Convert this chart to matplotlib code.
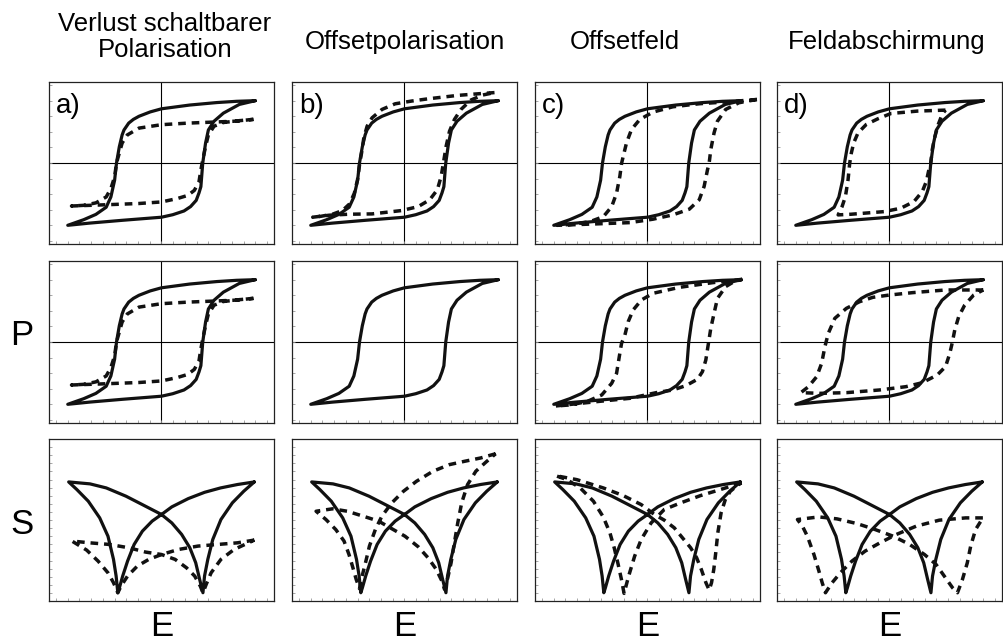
#!/usr/bin/env python3

import matplotlib
matplotlib.use("Agg")
import matplotlib.pyplot as plt
import numpy as np

plt.rcParams["font.family"] = ["Liberation Sans", "DejaVu Sans"]

column_titles = ["Verlust schaltbarer\nPolarisation", "Offsetpolarisation",
                 "Offsetfeld", "Feldabschirmung"]
panel_tags = ["a)", "b)", "c)", "d)"]

# Curves are (E, P) or (E, S) pairs, upper branch (E falling) then lower branch (E rising)

# Reference hysteresis loop P(E), drawn solid in every P panel
ref_loop = [
    (1.00, 1.00), (0.80, 0.99), (0.59, 0.97), (0.30, 0.93), (0.00, 0.87),
    (-0.12, 0.82), (-0.24, 0.75), (-0.30, 0.70), (-0.35, 0.64), (-0.40, 0.53),
    (-0.42, 0.45), (-0.45, 0.26), (-0.48, 0.00), (-0.50, -0.275), (-0.54, -0.545),
    (-0.59, -0.71), (-0.70, -0.825), (-0.83, -0.91), (-1.00, -1.00),
    (-0.77, -0.965), (-0.42, -0.92), (0.00, -0.87), (0.12, -0.83), (0.24, -0.77),
    (0.31, -0.70), (0.37, -0.60), (0.40, -0.48), (0.42, -0.38), (0.44, 0.00),
    (0.47, 0.32), (0.50, 0.53), (0.56, 0.67), (0.66, 0.80), (0.83, 0.94),
    (1.00, 1.00),
]

# Reference butterfly curve S(E), drawn solid in every S panel
ref_bfly = [
    (0.99, 0.735), (0.81, 0.719), (0.63, 0.698), (0.46, 0.671), (0.285, 0.632),
    (0.11, 0.581), (0.00, 0.534), (-0.10, 0.493), (-0.204, 0.431), (-0.292, 0.349),
    (-0.362, 0.246), (-0.414, 0.154), (-0.449, 0.082), (-0.466, 0.051),
    (-0.484, 0.154), (-0.512, 0.257), (-0.571, 0.400), (-0.659, 0.513),
    (-0.781, 0.616), (-0.903, 0.688), (-0.99, 0.735),
    (-0.763, 0.723), (-0.589, 0.698), (-0.379, 0.647), (-0.204, 0.595),
    (0.00, 0.534), (0.11, 0.482), (0.215, 0.411), (0.302, 0.329), (0.365, 0.236),
    (0.407, 0.133), (0.442, 0.051), (0.459, 0.154), (0.494, 0.257), (0.547, 0.380),
    (0.634, 0.503), (0.756, 0.606), (0.878, 0.678), (0.99, 0.735),
]

# a) loss of switchable polarisation
a_loop = [
    (0.98, 0.70), (0.77, 0.67), (0.28, 0.64), (0.00, 0.615), (-0.24, 0.56),
    (-0.365, 0.45), (-0.42, 0.32), (-0.45, 0.16), (-0.48, 0.00), (-0.50, -0.22),
    (-0.54, -0.41), (-0.59, -0.545), (-0.70, -0.64), (-0.835, -0.68), (-0.96, -0.69),
    (-0.59, -0.67), (-0.24, -0.65), (0.00, -0.625), (0.17, -0.57), (0.28, -0.52),
    (0.35, -0.44), (0.40, -0.30), (0.42, -0.11), (0.44, 0.05), (0.47, 0.265),
    (0.50, 0.45), (0.56, 0.59), (0.66, 0.65), (0.835, 0.68), (0.98, 0.70),
]
a_bfly = [
    (0.99, 0.376), (0.809, 0.359), (0.599, 0.349), (0.389, 0.339), (0.18, 0.318),
    (0.00, 0.287), (-0.135, 0.257), (-0.257, 0.216), (-0.362, 0.154),
    (-0.432, 0.092), (-0.466, 0.051), (-0.512, 0.113), (-0.571, 0.174),
    (-0.676, 0.246), (-0.798, 0.314), (-0.955, 0.370),
    (-0.763, 0.359), (-0.554, 0.349), (-0.344, 0.328), (-0.17, 0.302),
    (0.00, 0.287), (0.145, 0.257), (0.267, 0.205), (0.354, 0.154), (0.414, 0.092),
    (0.442, 0.051), (0.477, 0.103), (0.529, 0.174), (0.634, 0.257), (0.774, 0.318),
    (0.99, 0.376),
]

# b) offset polarisation
b_loop = [
    (0.96, 1.13), (0.78, 1.11), (0.567, 1.085), (0.251, 1.03), (0.075, 0.994),
    (-0.10, 0.95), (-0.24, 0.86), (-0.346, 0.725), (-0.399, 0.59), (-0.434, 0.403),
    (-0.458, 0.161), (-0.476, 0.01), (-0.501, -0.268), (-0.535, -0.484),
    (-0.585, -0.655), (-0.662, -0.763), (-0.768, -0.822), (-0.891, -0.855),
    (-0.979, -0.87),
    (-0.803, -0.838), (-0.592, -0.822), (-0.346, -0.817), (-0.03, -0.763),
    (0.146, -0.70), (0.269, -0.59), (0.35, -0.43), (0.391, -0.215), (0.416, 0.01),
    (0.444, 0.268), (0.48, 0.51), (0.533, 0.70), (0.603, 0.86), (0.708, 1.01),
    (0.831, 1.09), (0.96, 1.13),
]
b_bfly = [
    (0.972, 0.909), (0.813, 0.883), (0.638, 0.862), (0.48, 0.842), (0.304, 0.801),
    (0.128, 0.739), (-0.012, 0.677), (-0.135, 0.606), (-0.241, 0.524),
    (-0.311, 0.441), (-0.374, 0.339), (-0.416, 0.236), (-0.452, 0.154),
    (-0.48, 0.076), (-0.515, 0.133), (-0.55, 0.205), (-0.592, 0.287),
    (-0.645, 0.37), (-0.733, 0.441), (-0.838, 0.503), (-0.943, 0.554),
    (-0.768, 0.569), (-0.61, 0.554), (-0.416, 0.519), (-0.276, 0.493),
    (-0.135, 0.446), (0.005, 0.40), (0.146, 0.335), (0.251, 0.267), (0.339, 0.195),
    (0.399, 0.123), (0.427, 0.072), (0.462, 0.144), (0.497, 0.236), (0.532, 0.359),
    (0.568, 0.482), (0.61, 0.606), (0.673, 0.719), (0.761, 0.801), (0.866, 0.856),
    (0.972, 0.909),
]

# c) offset field
c_loop_top = [
    (1.168, 1.02), (0.869, 0.983), (0.552, 0.951), (0.27, 0.902), (0.058, 0.817),
    (-0.083, 0.698), (-0.171, 0.537), (-0.224, 0.322), (-0.259, 0.107),
    (-0.277, -0.01), (-0.295, -0.215), (-0.33, -0.484), (-0.382, -0.70),
    (-0.47, -0.86), (-0.611, -0.94), (-0.788, -0.983), (-0.964, -1.00),
    (-0.541, -0.977), (-0.189, -0.957), (0.058, -0.902), (0.27, -0.833),
    (0.446, -0.741), (0.552, -0.59), (0.604, -0.376), (0.64, -0.108), (0.657, -0.01),
    (0.675, 0.215), (0.71, 0.483), (0.746, 0.671), (0.834, 0.86), (0.975, 0.967),
    (1.168, 1.02),
]
c_loop_mid = [
    (1.01, 1.006), (0.693, 0.952), (0.34, 0.877), (0.058, 0.781), (-0.065, 0.674),
    (-0.153, 0.514), (-0.206, 0.326), (-0.241, 0.112), (-0.277, -0.022),
    (-0.301, -0.236), (-0.33, -0.503), (-0.382, -0.663), (-0.488, -0.85),
    (-0.647, -0.957), (-0.823, -1.01), (-0.981, -1.027),
    (-0.541, -0.957), (-0.189, -0.904), (0.093, -0.813), (0.27, -0.77),
    (0.41, -0.70), (0.533, -0.598), (0.586, -0.476), (0.622, -0.289), (0.65, -0.022),
    (0.675, 0.219), (0.71, 0.46), (0.746, 0.70), (0.834, 0.889), (0.922, 0.968),
    (1.01, 1.006),
]
c_bfly = [
    (1.00, 0.729), (0.778, 0.688), (0.567, 0.651), (0.355, 0.606), (0.179, 0.565),
    (0.039, 0.482), (-0.067, 0.38), (-0.137, 0.277), (-0.201, 0.154),
    (-0.25, 0.047), (-0.278, 0.133), (-0.313, 0.226), (-0.355, 0.328),
    (-0.401, 0.421), (-0.472, 0.519), (-0.577, 0.616), (-0.718, 0.698),
    (-0.859, 0.749), (-0.982, 0.774),
    (-0.753, 0.749), (-0.472, 0.698), (-0.26, 0.651), (-0.067, 0.595),
    (0.074, 0.534), (0.179, 0.499), (0.285, 0.452), (0.373, 0.39), (0.461, 0.328),
    (0.524, 0.267), (0.574, 0.195), (0.623, 0.113), (0.658, 0.068), (0.683, 0.113),
    (0.707, 0.195), (0.728, 0.298), (0.75, 0.421), (0.785, 0.544), (0.83, 0.626),
    (0.883, 0.677), (0.947, 0.708), (1.00, 0.729),
]

# d) field screening
d_loop_top = [
    (0.597, 0.849), (0.298, 0.833), (0.016, 0.795), (-0.125, 0.709),
    (-0.248, 0.618), (-0.336, 0.483), (-0.382, 0.322), (-0.407, 0.161),
    (-0.425, -0.01), (-0.442, -0.268), (-0.47, -0.537), (-0.506, -0.70),
    (-0.548, -0.833),
    (-0.407, -0.822), (-0.055, -0.78), (0.122, -0.725), (0.262, -0.618),
    (0.35, -0.457), (0.393, -0.296), (0.42, -0.108), (0.439, -0.01), (0.456, 0.215),
    (0.485, 0.429), (0.52, 0.618), (0.562, 0.78), (0.597, 0.849),
]
d_loop_mid = [
    (1.00, 0.835), (0.597, 0.835), (0.245, 0.792), (0.00, 0.754), (-0.178, 0.717),
    (-0.319, 0.647), (-0.46, 0.54), (-0.583, 0.38), (-0.653, 0.138),
    (-0.689, -0.075), (-0.724, -0.343), (-0.777, -0.557), (-0.865, -0.718),
    (-0.946, -0.813),
    (-0.742, -0.824), (-0.46, -0.813), (-0.107, -0.77), (0.175, -0.717),
    (0.35, -0.653), (0.509, -0.53), (0.598, -0.395), (0.643, -0.182),
    (0.668, -0.021), (0.696, 0.192), (0.738, 0.406), (0.802, 0.593), (0.898, 0.754),
    (1.00, 0.835),
]
d_bfly = [
    (0.996, 0.513), (0.813, 0.513), (0.531, 0.499), (0.285, 0.462), (0.074, 0.411),
    (-0.102, 0.359), (-0.26, 0.308), (-0.401, 0.246), (-0.524, 0.174),
    (-0.612, 0.113), (-0.683, 0.051), (-0.718, 0.113), (-0.753, 0.185),
    (-0.806, 0.287), (-0.876, 0.40), (-0.929, 0.462), (-0.982, 0.503),
    (-0.753, 0.519), (-0.56, 0.507), (-0.348, 0.478), (-0.172, 0.445),
    (0.039, 0.40), (0.215, 0.349), (0.373, 0.287), (0.496, 0.226), (0.584, 0.154),
    (0.672, 0.082), (0.725, 0.051), (0.778, 0.133), (0.83, 0.236), (0.866, 0.339),
    (0.918, 0.441), (0.996, 0.513),
]

# (solid, dashed) for each row and column
panels = [
    [(ref_loop, a_loop), (ref_loop, b_loop), (ref_loop, c_loop_top), (ref_loop, d_loop_top)],
    [(ref_loop, a_loop), (ref_loop, None), (ref_loop, c_loop_mid), (ref_loop, d_loop_mid)],
    [(ref_bfly, a_bfly), (ref_bfly, b_bfly), (ref_bfly, c_bfly), (ref_bfly, d_bfly)],
]


def draw_curve(ax, pts, dashed=False):
    e = [p[0] for p in pts]
    v = [p[1] for p in pts]
    if dashed:
        ax.plot(e, v, color="#111111", lw=2.5, linestyle=(0, (2.2, 1.7)),
                dash_capstyle="butt", zorder=4)
    else:
        ax.plot(e, v, color="#111111", lw=2.3, solid_joinstyle="round",
                solid_capstyle="round", zorder=3)


def main():
    W, H = 1004, 642
    fig = plt.figure(figsize=(W / 100, H / 100), dpi=100)

    col_left = [49, 292, 535, 777]
    row_top = [82, 261, 439]
    box_w, box_h = 225, 162

    for r in range(3):
        for c in range(4):
            ax = fig.add_axes([col_left[c] / W, 1 - (row_top[r] + box_h) / H,
                               box_w / W, box_h / H])
            solid, dashed = panels[r][c]
            ax.set_xlim(-1.2, 1.2)
            ax.set_xticks(np.arange(-1.125, 1.2, 0.125))
            if r < 2:
                ax.set_ylim(-1.3, 1.3)
                ax.set_yticks(np.arange(-1.25, 1.3, 0.25))
                ax.axhline(0, color="black", lw=0.8, zorder=1)
                ax.axvline(0, color="black", lw=0.8, zorder=1)
            else:
                ax.set_ylim(0, 1)
                ax.set_yticks(np.arange(0.05, 1.0, 0.05))
            ax.tick_params(direction="in", length=2.5, width=0.6, color="#999999",
                           labelbottom=False, labelleft=False)
            for sp in ax.spines.values():
                sp.set_linewidth(0.9)
                sp.set_color("#222222")

            draw_curve(ax, solid)
            if dashed is not None:
                draw_curve(ax, dashed, dashed=True)

            if r == 0:
                ax.text(0.03, 0.93, panel_tags[c], transform=ax.transAxes,
                        fontsize=20, ha="left", va="top")

    # Column headings
    title_x = [165, 405, 625, 887]
    title_y = [37, 42, 42, 42]
    for c in range(4):
        fig.text(title_x[c] / W, 1 - title_y[c] / H, column_titles[c],
                 fontsize=18.5, ha="center", va="center", linespacing=1.15)

    # Axis names
    fig.text(22 / W, 1 - 336 / H, "P", fontsize=25, ha="center", va="center")
    fig.text(22 / W, 1 - 524 / H, "S", fontsize=25, ha="center", va="center")
    for c in range(4):
        fig.text((col_left[c] + box_w / 2) / W, 1 - 626 / H, "E",
                 fontsize=25, ha="center", va="center")

    fig.savefig("out.png", dpi=100)


if __name__ == "__main__":
    main()
